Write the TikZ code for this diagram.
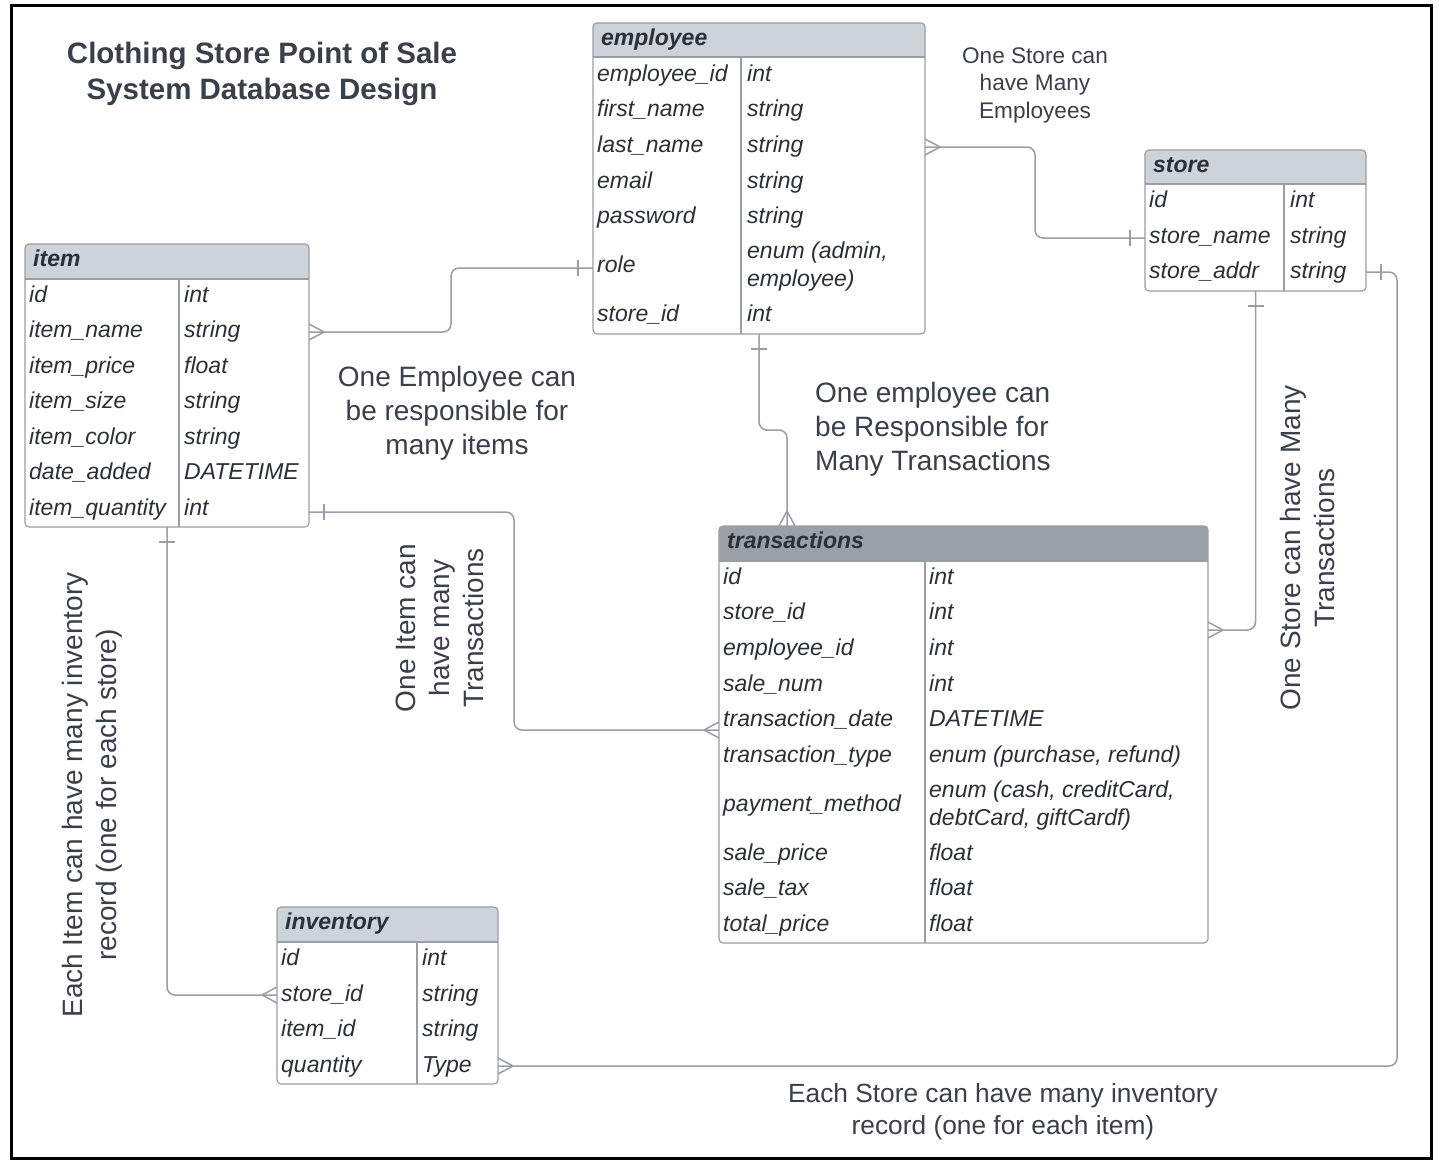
\documentclass[tikz,border=0pt]{standalone}
\usepackage{fontspec}
\setmainfont{Liberation Sans}
\usetikzlibrary{calc,fit}

\definecolor{linegray}{HTML}{9A9EA5}
\definecolor{hdrlight}{HTML}{CED3DA}
\definecolor{hdrdark}{HTML}{9A9FA8}
\definecolor{txtdark}{HTML}{2B2F36}
\definecolor{notecol}{HTML}{3A404A}

% table skeleton: name, x1, y1, x2, y2, header bottom, divider x, header colour, title
\newcommand{\ertable}[9]{%
  \begin{scope}
    \clip[rounded corners=4] (#2,#3) rectangle (#4,#5);
    \fill[#8] (#2,#3) rectangle (#4,#6);
  \end{scope}
  \node[tbl, fit={(#2,#3) (#4,#5)}] (#1) {};
  \draw[tblline] (#2,#6) -- (#4,#6) (#7,#6) -- (#7,#5);
  \node[hdrtext] (#1-title) at ({#2+8},{(#3+#6)/2}) {#9};
}

\tikzset{
  tbl/.style={draw=linegray, line width=1.2pt, rounded corners=4, inner sep=0pt, outer sep=0pt},
  tblline/.style={draw=linegray, line width=1.2pt},
  hdrtext/.style={anchor=west, inner sep=0pt, text=txtdark, text height=16pt, text depth=6pt,
    font=\fontsize{23}{28}\selectfont\bfseries\itshape},
  field/.style={anchor=west, inner sep=0pt, text=txtdark, text height=19pt, text depth=3pt,
    font=\fontsize{23}{28}\selectfont\itshape},
  field2/.style={anchor=west, inner sep=0pt, align=left, text=txtdark, font=\fontsize{23}{28}\selectfont\itshape},
  note/.style={inner sep=0pt, align=center, text=notecol, font=\fontsize{28}{34}\selectfont},
  conn/.style={draw=linegray, line width=1.5pt, rounded corners=8},
  pics/manyend/.style={code={\draw[conn] (15,0) -- (0,8) (15,0) -- (0,-8);}},
  pics/oneend/.style={code={\draw[conn] (15,-8) -- (15,8);}}
}

\begin{document}
\begin{tikzpicture}[x=1pt, y=-1pt]
  \useasboundingbox (0,0) rectangle (1444,1170);
  \fill[white] (0,0) rectangle (1444,1170);
  \draw[line width=3pt] (11.5,5.5) rectangle (1431.5,1158.5);

  \node[note, text=notecol, font=\fontsize{29.5}{36}\selectfont\bfseries] (title) at (262,74)
    {Clothing Store Point of Sale\\System Database Design};

  % employee
  \ertable{emp}{593}{23}{925}{334}{57}{741}{hdrlight}{employee}
  \foreach \y/\k/\v [count=\i] in {73/employee\_id/int, 108/first\_name/string, 144/last\_name/string,
      180/email/string, 215/password/string, 313/store\_id/int} {
    \node[field] (emp-k\i) at (597,\y) {\k};
    \node[field] (emp-v\i) at (747,\y) {\v};
  }
  \node[field] (emp-k7) at (597,264) {role};
  \node[field2] (emp-v7) at (747,267) {enum (admin,\\employee)};

  % store
  \ertable{store}{1145}{150}{1366}{291}{184}{1284}{hdrlight}{store}
  \foreach \y/\k/\v [count=\i] in {199/id/int, 235/store\_name/string, 270/store\_addr/string} {
    \node[field] (store-k\i) at (1149,\y) {\k};
    \node[field] (store-v\i) at (1290,\y) {\v};
  }

  % item
  \ertable{item}{25}{244}{309}{527}{279}{179}{hdrlight}{item}
  \foreach \y/\k/\v [count=\i] in {294/id/int, 329/item\_name/string, 365/item\_price/float,
      400/item\_size/string, 436/item\_color/string, 471/date\_added/DATETIME, 507/item\_quantity/int} {
    \node[field] (item-k\i) at (29,\y) {\k};
    \node[field] (item-v\i) at (184,\y) {\v};
  }

  % transactions
  \ertable{tr}{719}{526}{1208}{943}{561}{925}{hdrdark}{transactions}
  \foreach \y/\k/\v [count=\i] in {576/id/int, 611/store\_id/int, 647/employee\_id/int, 683/sale\_num/int,
      718/transaction\_date/DATETIME, 754/transaction\_type/{enum (purchase, refund)},
      852/sale\_price/float, 887/sale\_tax/float, 923/total\_price/float} {
    \node[field] (tr-k\i) at (723,\y) {\k};
    \node[field] (tr-v\i) at (929,\y) {\v};
  }
  \node[field] (tr-k10) at (723,803) {payment\_method};
  \node[field2] (tr-v10) at (929,806) {enum (cash, creditCard,\\debtCard, giftCardf)};

  % inventory
  \ertable{inv}{277}{907}{498}{1084}{942}{417}{hdrlight}{inventory}
  \foreach \y/\k/\v [count=\i] in {957/id/int, 993/store\_id/string, 1028/item\_id/string, 1064/quantity/Type} {
    \node[field] (inv-k\i) at (281,\y) {\k};
    \node[field] (inv-v\i) at (422,\y) {\v};
  }

  % connector end points
  \coordinate (item-emp) at (item.east |- 0,332);
  \coordinate (emp-item) at (emp.west |- 0,268);
  \coordinate (emp-store) at (emp.east |- 0,147);
  \coordinate (store-emp) at (store.west |- 0,238);
  \coordinate (emp-tr) at (emp.south);
  \coordinate (tr-emp) at (787,526);
  \coordinate (store-tr) at (store.south);
  \coordinate (tr-store) at (tr.east |- 0,630);
  \coordinate (store-inv) at (store.east |- 0,272);
  \coordinate (inv-store) at (inv.east |- 0,1066);
  \coordinate (item-tr) at (item.east |- 0,512);
  \coordinate (tr-item) at (tr.west |- 0,730);
  \coordinate (item-inv) at (item.south);
  \coordinate (inv-item) at (inv.west |- 0,995);

  % relationships
  \draw[conn] (item-emp) -| ($(item-emp)!0.5!(emp-item)$) |- (emp-item);
  \pic at (item-emp) {manyend};
  \pic[rotate=180] at (emp-item) {oneend};

  \draw[conn] (emp-store) -| ($(emp-store)!0.5!(store-emp)$) |- (store-emp);
  \pic at (emp-store) {manyend};
  \pic[rotate=180] at (store-emp) {oneend};

  \draw[conn] (emp-tr) |- ($(emp-tr)!0.5!(tr-emp)$) -| (tr-emp);
  \pic[rotate=-90] at (emp-tr) {oneend};
  \pic[rotate=90] at (tr-emp) {manyend};

  \draw[conn] (store-tr) |- (tr-store);
  \pic[rotate=-90] at (store-tr) {oneend};
  \pic at (tr-store) {manyend};

  \draw[conn] (store-inv) -- ++(31,0) |- (inv-store);
  \pic at (store-inv) {oneend};
  \pic at (inv-store) {manyend};

  \draw[conn] (item-tr) -| ($(item-tr)!0.5!(tr-item)$) |- (tr-item);
  \pic at (item-tr) {oneend};
  \pic[rotate=180] at (tr-item) {manyend};

  \draw[conn] (item-inv) |- (inv-item);
  \pic[rotate=-90] at (item-inv) {oneend};
  \pic[rotate=180] at (inv-item) {manyend};

  % relationship notes
  \node[note, font=\fontsize{22.6}{27.5}\selectfont] (note-store-emp) at (1035,85)
    {One Store can\\have Many\\Employees};
  \node[note] (note-emp-item) at (457,413) {One Employee can\\be responsible for\\many items};
  \node[note, align=left, anchor=west] (note-emp-tr) at (815,429)
    {One employee can\\be Responsible for\\Many Transactions};
  \node[note, rotate=90] (note-item-tr) at (440,628) {One Item can\\have many\\Transactions};
  \node[note, rotate=90] (note-store-tr) at (1307,548) {One Store can have Many\\Transactions};
  \node[note, rotate=90] (note-item-inv) at (92,795)
    {Each Item can have many inventory\\record (one for each store)};
  \node[note, font=\fontsize{26.3}{32}\selectfont] (note-store-inv) at (1003,1112)
    {Each Store can have many inventory\\record (one for each item)};
\end{tikzpicture}
\end{document}
